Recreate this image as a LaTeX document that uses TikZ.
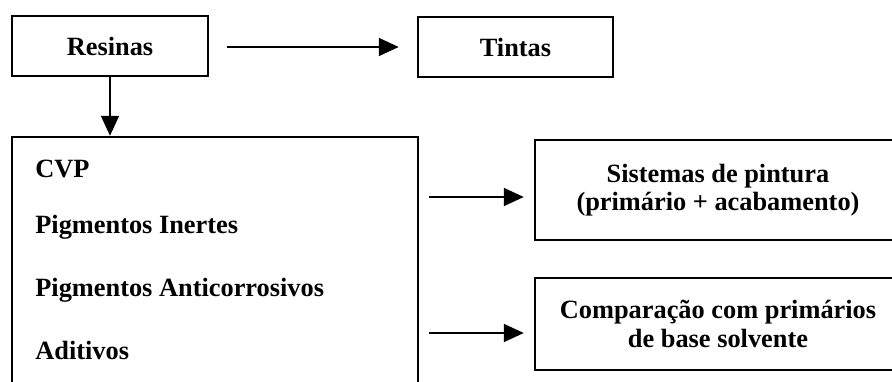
\documentclass[tikz,border=0pt]{standalone}
\usepackage{fontspec}
\setmainfont{Liberation Serif}
\usepackage{tikz}
\usetikzlibrary{calc,arrows.meta,positioning}

\begin{document}
\begin{tikzpicture}[
  line cap=butt,
  line join=miter,
  font=\fontsize{15}{16}\selectfont\bfseries,
  box/.style={draw=black,line width=1.4pt,align=center,inner sep=0pt},
  item/.style={anchor=west,inner sep=0pt},
  flow/.style={black,line width=1pt,
    -{Triangle[length=0.40cm,width=0.36cm]}}
]
\path[use as bounding box] (0,0) rectangle (17.84,7.62);
\clip (0,0) rectangle (17.84,7.62);

% top row
\node[box,minimum width=3.92cm,minimum height=1.20cm] (resinas)
  at (2.20,6.70) {Resinas};
\node[box,minimum width=3.90cm,minimum height=1.20cm] (tintas)
  at (10.31,6.68) {Tintas};

% formulation box
\node[box,minimum width=8.12cm,minimum height=5.20cm] (formula)
  at (4.30,2.28) {};
\node[item] (cvp) at (0.70,4.24) {CVP};
\node[item] (inertes) at (0.70,3.08) {Pigmentos Inertes};
\node[item] (anticorr) at (0.70,1.82) {Pigmentos Anticorrosivos};
\node[item] (aditivos) at (0.70,0.62) {Aditivos};

% results
\node[box,minimum width=7.32cm,minimum height=2.00cm] (sistemas)
  at (14.36,3.82) {Sistemas de pintura\\(primário + acabamento)};
\node[box,minimum width=7.32cm,minimum height=1.84cm] (comparacao)
  at (14.36,1.14) {Comparação com primários\\de base solvente};

\coordinate (inS) at ([yshift=-0.14cm]sistemas.west);
\coordinate (inC) at ([yshift=-0.18cm]comparacao.west);

\draw[flow,shorten <=0.36cm,shorten >=0.36cm]
  (resinas.east |- tintas.west) -- (tintas.west);
\draw[flow] (resinas.south) -- (resinas.south |- formula.north);
\draw[flow,shorten <=0.20cm,shorten >=0.20cm] (formula.east |- inS) -- (inS);
\draw[flow,shorten <=0.20cm,shorten >=0.20cm] (formula.east |- inC) -- (inC);
\end{tikzpicture}
\end{document}
